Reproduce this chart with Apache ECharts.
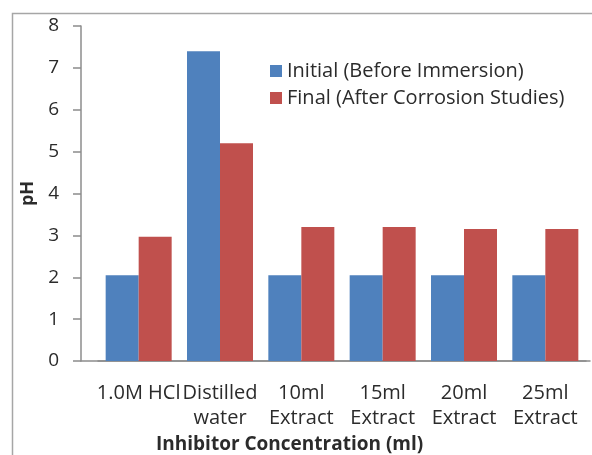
<!DOCTYPE html>
<html>
<head>
<meta charset="utf-8">
<script src="https://cdn.jsdelivr.net/npm/echarts@6/dist/echarts.min.js"></script>
<style>
html,body{margin:0;padding:0;background:#fff;}
#chart{width:592px;height:455px;}
</style>
</head>
<body>
<div id="chart"></div>
<script>
var categories = ['1.0M HCl', 'Distilled\nwater', '10ml\nExtract', '15ml\nExtract', '20ml\nExtract', '25ml\nExtract'];
var initialValues = [2.05, 7.4, 2.05, 2.05, 2.05, 2.05];
var finalValues = [2.97, 5.2, 3.2, 3.2, 3.15, 3.15];
var seriesNames = ['Initial (Before Immersion)', 'Final (After Corrosion Studies)'];
var yTicks = { min: 0, max: 8, interval: 1 };
var xTitle = 'Inhibitor Concentration (ml)';
var yTitle = 'pH';

var FONT = '"Open Sans", sans-serif';
var TXT = '#2b2b2b';
var AX = '#8c8c8c';

var chart = echarts.init(document.getElementById('chart'), null, { renderer: 'canvas' });
chart.setOption({
  animation: false,
  backgroundColor: '#ffffff',
  textStyle: { fontFamily: FONT },
  title: {
    text: xTitle,
    left: 156, top: 435, padding: 0,
    textStyle: { fontFamily: FONT, fontSize: 19, fontWeight: 'bold', color: TXT }
  },
  graphic: [{
    type: 'rect', left: 10, top: 11, silent: true,
    shape: { width: 700, height: 600 },
    style: { fill: 'none', stroke: '#a6a6a6', lineWidth: 1.5 }
  }],
  legend: {
    orient: 'vertical', left: 265, top: 56,
    itemWidth: 12, itemHeight: 12, itemGap: 7,
    icon: 'rect',
    textStyle: { fontFamily: FONT, fontSize: 20, color: TXT, lineHeight: 20 },
    data: seriesNames
  },
  grid: [
    { left: 98, right: 6, top: 26, bottom: 94, containLabel: false },
    { left: 81, right: 2, top: 26, bottom: 94, containLabel: false }
  ],
  xAxis: [{
    type: 'category', gridIndex: 0, data: categories,
    axisLine: { show: true, lineStyle: { color: AX, width: 1.5 } },
    axisTick: { show: false },
    axisLabel: { interval: 0, margin: 20, fontFamily: FONT, fontSize: 20, lineHeight: 25, color: TXT }
  }, {
    type: 'value', gridIndex: 1, min: 0, max: 1,
    axisLine: { show: true, lineStyle: { color: AX, width: 1.5 } },
    axisTick: { show: false }, axisLabel: { show: false }, splitLine: { show: false }
  }],
  yAxis: [{
    type: 'value', gridIndex: 0, min: yTicks.min, max: yTicks.max, interval: yTicks.interval,
    offset: 17,
    name: yTitle, nameLocation: 'middle', nameRotate: 90, nameGap: 37,
    nameTextStyle: { fontFamily: FONT, fontSize: 18, fontWeight: 'bold', color: TXT },
    axisLine: { show: true, lineStyle: { color: AX, width: 1.5 } },
    axisTick: { show: true, inside: false, length: 8, lineStyle: { color: AX, width: 1.5 } },
    axisLabel: { margin: 22, fontFamily: FONT, fontSize: 19, color: TXT },
    splitLine: { show: false }
  }, {
    type: 'value', gridIndex: 1, show: false, min: 0, max: 1
  }],
  series: [{
    name: seriesNames[0], type: 'bar', xAxisIndex: 0, yAxisIndex: 0,
    data: initialValues, barWidth: 33, barGap: '0%',
    itemStyle: { color: '#4f81bd' }
  }, {
    name: seriesNames[1], type: 'bar', xAxisIndex: 0, yAxisIndex: 0,
    data: finalValues, barWidth: 33, barGap: '0%',
    itemStyle: { color: '#c0504d' }
  }]
});
</script>
</body>
</html>
